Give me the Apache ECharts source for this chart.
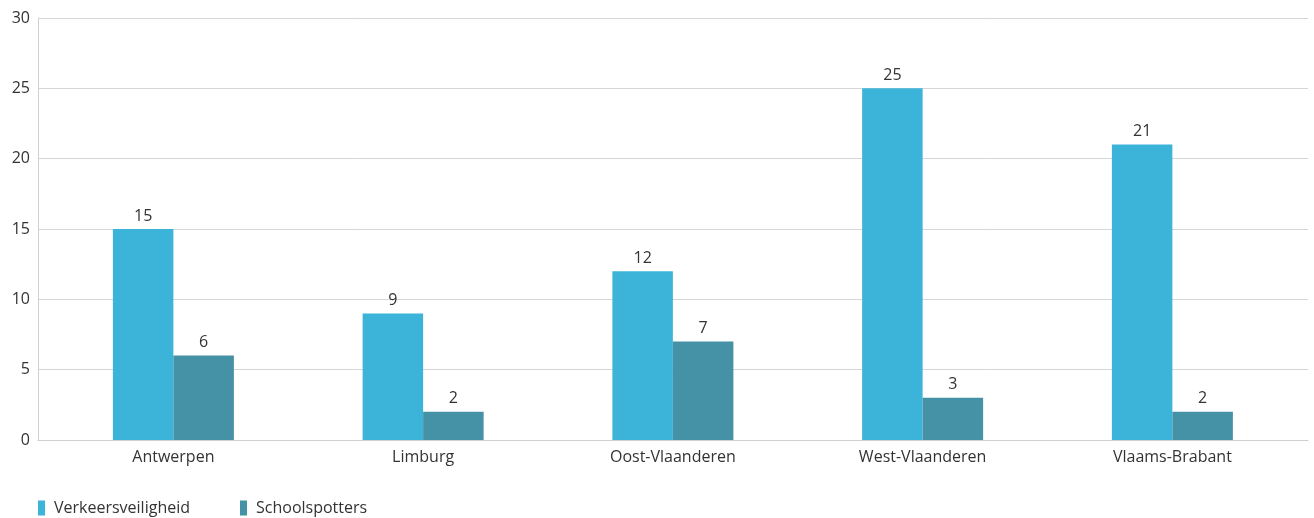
<!DOCTYPE html>
<html><head><meta charset="utf-8">
<script src="https://cdn.jsdelivr.net/npm/echarts@6/dist/echarts.min.js"></script>
<style>html,body{margin:0;padding:0;background:#fff}#c{width:1314px;height:518px}</style>
</head><body><div id="c"></div>
<script>
const categories = ['Antwerpen', 'Limburg', 'Oost-Vlaanderen', 'West-Vlaanderen', 'Vlaams-Brabant'];
const verkeersveiligheid = [15, 9, 12, 25, 21];
const schoolspotters = [6, 2, 7, 3, 2];
const seriesNames = ['Verkeersveiligheid', 'Schoolspotters'];
const yTicks = { min: 0, max: 30, interval: 5 };

const font = '"Open Sans", "Noto Sans", sans-serif';
const chart = echarts.init(document.getElementById('c'));
const lbl = { show: true, position: 'top', distance: 5, color: '#333', fontSize: 16, fontFamily: font };
chart.setOption({
  animation: false,
  textStyle: { fontFamily: font },
  grid: [
    { left: 38, right: 6, top: 18, bottom: 78 },
    { left: 48.5, right: 16.75, top: 18, bottom: 78 }
  ],
  legend: {
    left: 33, bottom: -3, itemWidth: 7, itemHeight: 15, itemGap: 50,
    icon: 'rect',
    textStyle: { color: '#333', fontSize: 16, fontFamily: font, padding: [0, 0, 0, 4] },
    data: seriesNames
  },
  xAxis: [
    { gridIndex: 0, type: 'category', data: categories, axisLine: { show: true, lineStyle: { color: '#cfcfcf' } }, axisTick: { show: false }, axisLabel: { show: false } },
    { gridIndex: 1, type: 'category', data: categories, axisLine: { show: false }, axisTick: { show: false },
      axisLabel: { color: '#333', fontSize: 16, margin: 9, fontFamily: font } }
  ],
  yAxis: [
    { gridIndex: 0, type: 'value', min: yTicks.min, max: yTicks.max, interval: yTicks.interval,
      axisLine: { show: true, lineStyle: { color: '#cfcfcf' } }, axisTick: { show: false },
      splitLine: { lineStyle: { color: '#d6d6d6' } },
      axisLabel: { color: '#333', fontSize: 16, margin: 8, fontFamily: font } },
    { gridIndex: 1, type: 'value', min: yTicks.min, max: yTicks.max, interval: yTicks.interval, show: false, splitLine: { show: false } }
  ],
  series: [
    { name: seriesNames[0], type: 'bar', xAxisIndex: 1, yAxisIndex: 1, data: verkeersveiligheid, barWidth: 60.5, barGap: '0%',
      itemStyle: { color: '#3cb4da' }, label: lbl },
    { name: seriesNames[1], type: 'bar', xAxisIndex: 1, yAxisIndex: 1, data: schoolspotters, barWidth: 60.5, barGap: '0%',
      itemStyle: { color: '#4591a5' }, label: lbl }
  ]
});
</script></body></html>
